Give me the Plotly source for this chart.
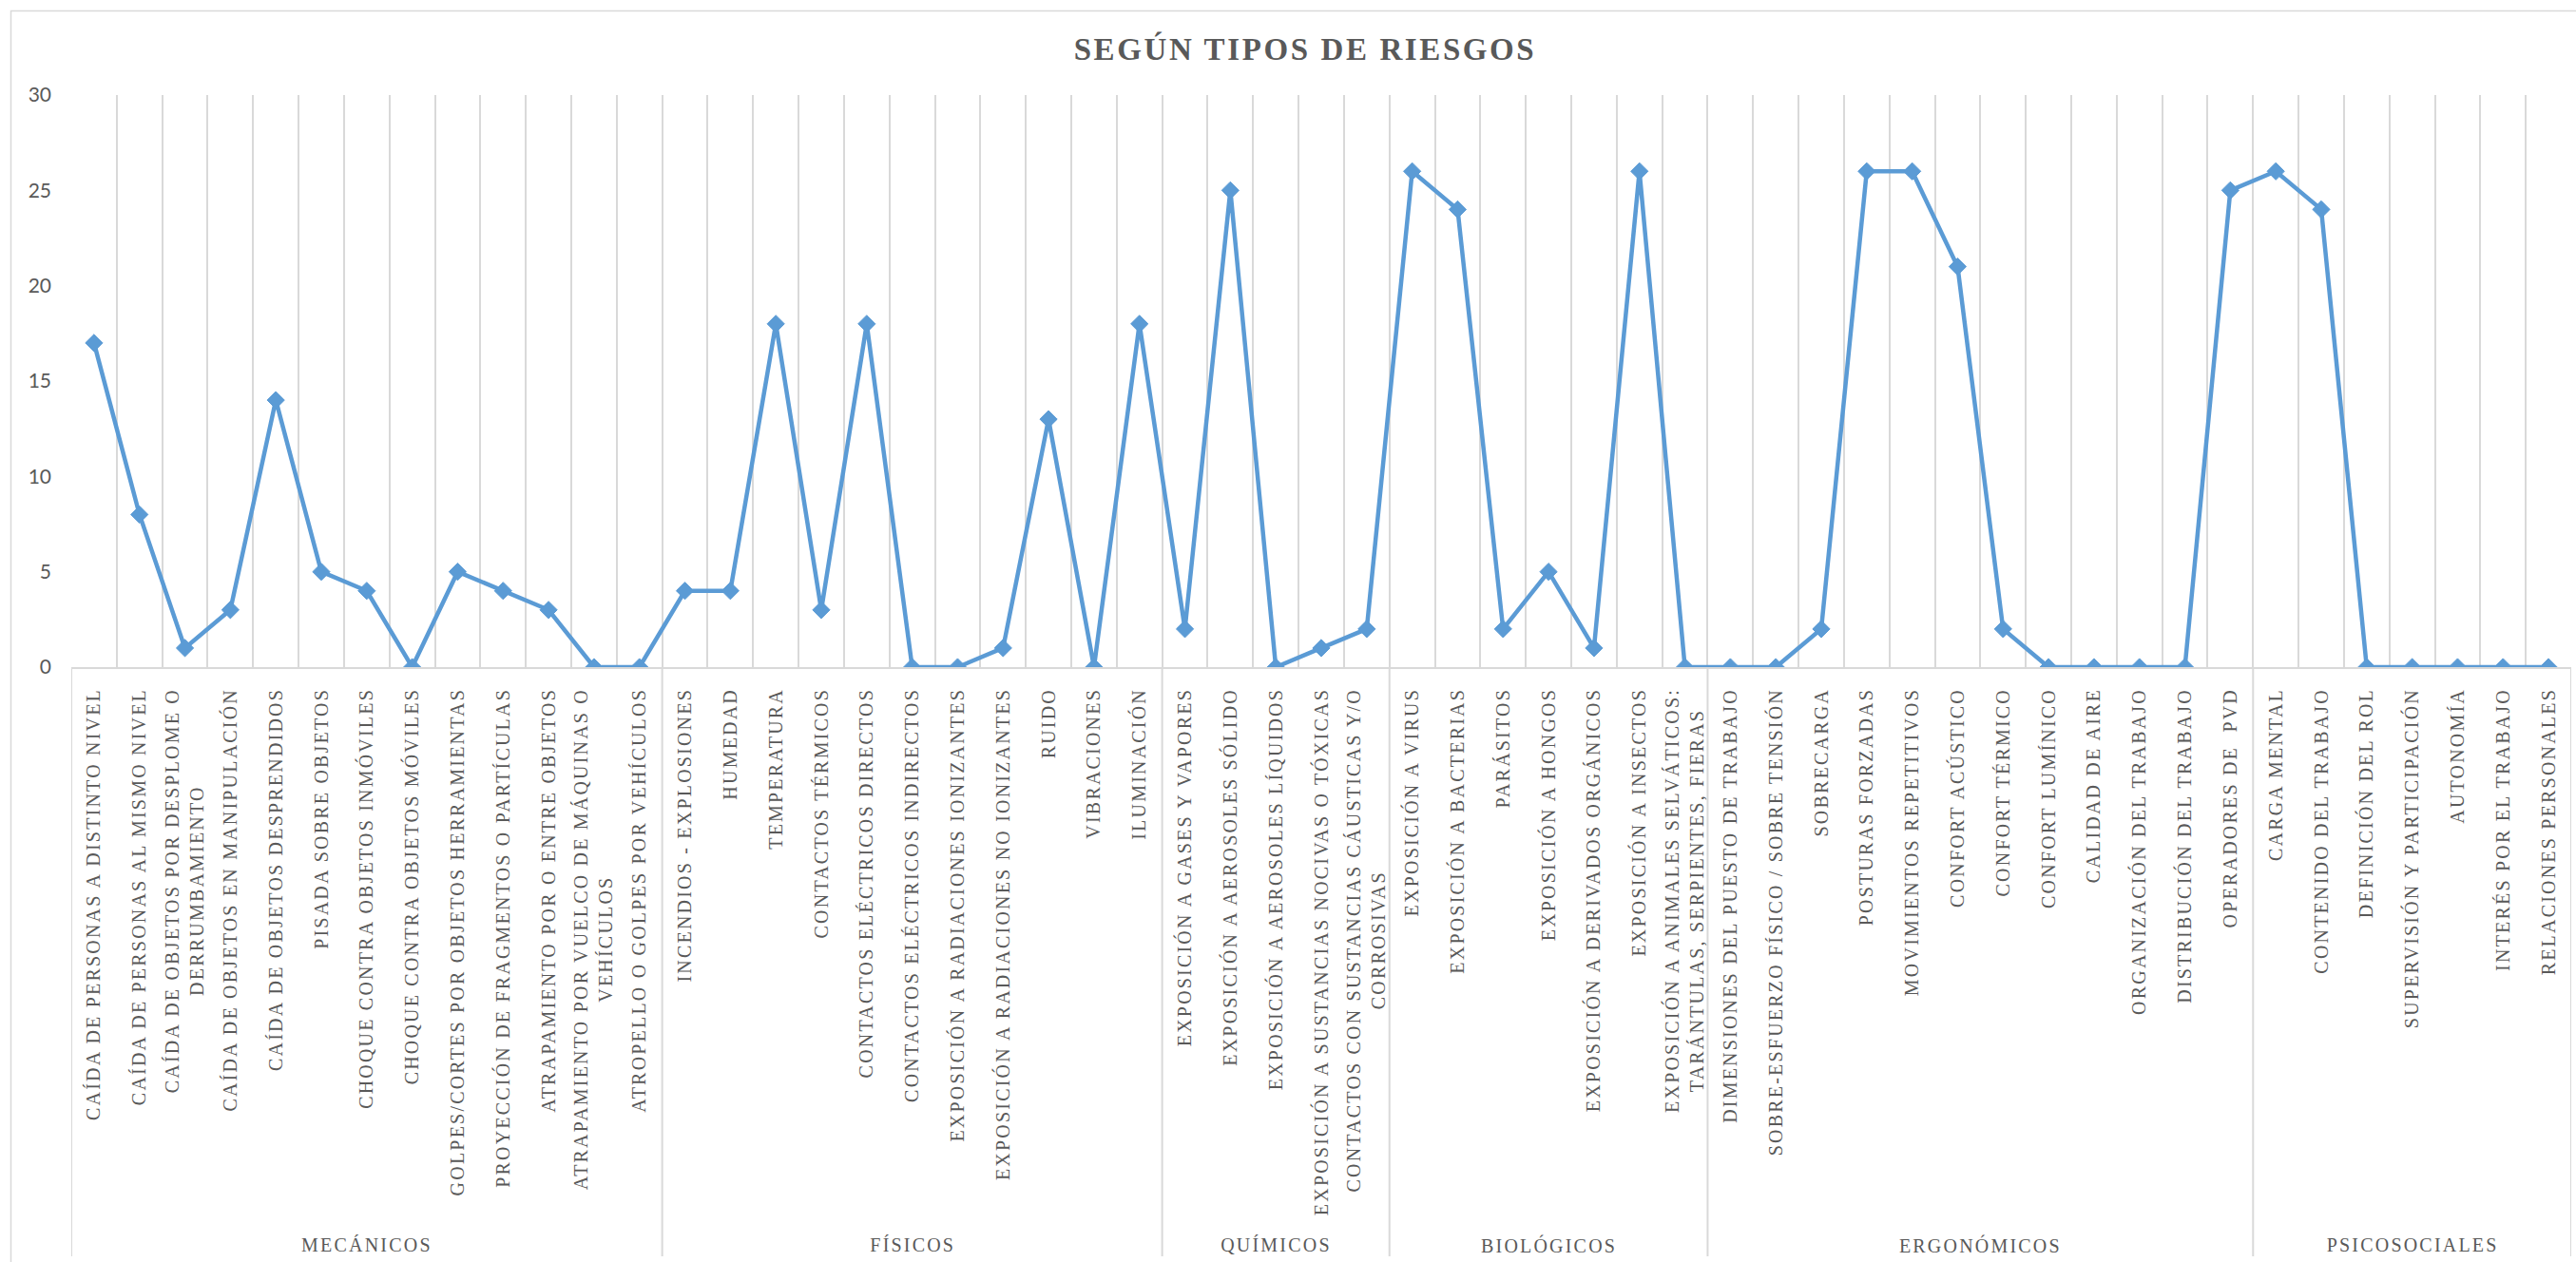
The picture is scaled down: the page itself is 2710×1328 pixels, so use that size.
import plotly.graph_objects as go

# ---------------- data ----------------
groups = ["MECÁNICOS", "FÍSICOS", "QUÍMICOS", "BIOLÓGICOS", "ERGONÓMICOS", "PSICOSOCIALES"]
group_sizes = [13, 11, 5, 7, 12, 7]

labels = [
    # MECÁNICOS
    "CAÍDA DE PERSONAS A DISTINTO NIVEL",
    "CAÍDA DE PERSONAS AL MISMO NIVEL",
    "CAÍDA DE OBJETOS POR DESPLOME O<br>DERRUMBAMIENTO",
    "CAÍDA DE OBJETOS EN MANIPULACIÓN",
    "CAÍDA DE OBJETOS DESPRENDIDOS",
    "PISADA SOBRE OBJETOS",
    "CHOQUE CONTRA OBJETOS INMÓVILES",
    "CHOQUE CONTRA OBJETOS MÓVILES",
    "GOLPES/CORTES POR OBJETOS HERRAMIENTAS",
    "PROYECCIÓN DE FRAGMENTOS O PARTÍCULAS",
    "ATRAPAMIENTO POR O ENTRE OBJETOS",
    "ATRAPAMIENTO POR VUELCO DE MÁQUINAS O<br>VEHÍCULOS",
    "ATROPELLO O GOLPES POR VEHÍCULOS",
    # FÍSICOS
    "INCENDIOS - EXPLOSIONES",
    "HUMEDAD",
    "TEMPERATURA",
    "CONTACTOS TÉRMICOS",
    "CONTACTOS ELÉCTRICOS DIRECTOS",
    "CONTACTOS ELÉCTRICOS INDIRECTOS",
    "EXPOSICIÓN A RADIACIONES IONIZANTES",
    "EXPOSICIÓN A RADIACIONES NO IONIZANTES",
    "RUIDO",
    "VIBRACIONES",
    "ILUMINACIÓN",
    # QUÍMICOS
    "EXPOSICIÓN A GASES Y VAPORES",
    "EXPOSICIÓN A AEROSOLES SÓLIDO",
    "EXPOSICIÓN A AEROSOLES LÍQUIDOS",
    "EXPOSICIÓN A SUSTANCIAS NOCIVAS O TÓXICAS",
    "CONTACTOS CON SUSTANCIAS CÁUSTICAS Y/O<br>CORROSIVAS",
    # BIOLÓGICOS
    "EXPOSICIÓN A VIRUS",
    "EXPOSICIÓN A BACTERIAS",
    "PARÁSITOS",
    "EXPOSICIÓN A HONGOS",
    "EXPOSICIÓN A DERIVADOS ORGÁNICOS",
    "EXPOSICIÓN A INSECTOS",
    "EXPOSICIÓN A ANIMALES SELVÁTICOS:<br>TARÁNTULAS, SERPIENTES, FIERAS",
    # ERGONÓMICOS
    "DIMENSIONES DEL PUESTO DE TRABAJO",
    "SOBRE-ESFUERZO FÍSICO / SOBRE TENSIÓN",
    "SOBRECARGA",
    "POSTURAS FORZADAS",
    "MOVIMIENTOS REPETITIVOS",
    "CONFORT ACÚSTICO",
    "CONFORT TÉRMICO",
    "CONFORT LUMÍNICO",
    "CALIDAD DE AIRE",
    "ORGANIZACIÓN DEL TRABAJO",
    "DISTRIBUCIÓN DEL TRABAJO",
    "OPERADORES DE \u00a0PVD",
    # PSICOSOCIALES
    "CARGA MENTAL",
    "CONTENIDO DEL TRABAJO",
    "DEFINICIÓN DEL ROL",
    "SUPERVISIÓN Y PARTICIPACIÓN",
    "AUTONOMÍA",
    "INTERÉS POR EL TRABAJO",
    "RELACIONES PERSONALES",
]

values = [
    17, 8, 1, 3, 14, 5, 4, 0, 5, 4, 3, 0, 0,
    4, 4, 18, 3, 18, 0, 0, 1, 13, 0, 18,
    2, 25, 0, 1, 2,
    26, 24, 2, 5, 1, 26, 0,
    0, 0, 2, 26, 26, 21, 2, 0, 0, 0, 0, 25,
    26, 24, 0, 0, 0, 0, 0,
]

title_text = "SEGÚN TIPOS DE RIESGOS"
y_ticks = [0, 5, 10, 15, 20, 25, 30]

# ---------------- layout geometry (pixels) ----------------
W, H = 2710, 1328
PL, PR, PT, PB = 75, 2705, 100, 702  # plot area edges


def px_x(p):
    return (p - PL) / (PR - PL)


def px_y(p):
    return (PB - p) / (PB - PT)


TEXT = "#595959"
GRID = "#D9D9D9"
BLUE = "#5B9BD5"
SERIF = "Liberation Serif, Times New Roman, serif"
SANS = "Lato, Carlito, Calibri, sans-serif"

fig = go.Figure()
fig.add_trace(go.Scatter(
    x=labels,
    y=values,
    mode="lines+markers",
    line=dict(color=BLUE, width=4.5),
    marker=dict(symbol="diamond", size=14, color=BLUE, line=dict(color=BLUE, width=1)),
    showlegend=False,
    hoverinfo="x+y",
))

shapes = []
# chart border
shapes.append(dict(type="rect", xref="paper", yref="paper",
                   x0=px_x(11.5), x1=px_x(2725), y0=px_y(1345), y1=px_y(11.5),
                   line=dict(color=GRID, width=1.5), fillcolor="rgba(0,0,0,0)", layer="below"))

# group dividers and labels
annotations = []
start = 0
bounds = [-0.5]
for g, n in zip(groups, group_sizes):
    bounds.append(start + n - 0.5)
    annotations.append(dict(
        x=start + (n - 1) / 2, xref="x",
        y=px_y(1310), yref="paper", yanchor="middle",
        text=g, showarrow=False,
        font=dict(family=SERIF, size=20, color=TEXT),
    ))
    start += n
for b in bounds:
    shapes.append(dict(type="line", xref="x", yref="paper",
                       x0=b, x1=b, y0=0, y1=px_y(1322),
                       line=dict(color=GRID, width=2)))

fig.update_layout(
    width=W, height=H,
    autosize=False,
    margin=dict(l=PL, r=W - PR, t=PT, b=H - PB, pad=0),
    paper_bgcolor="white",
    plot_bgcolor="white",
    title=dict(
        text=title_text,
        x=px_x(1373), xref="paper", xanchor="center",
        y=1 - 51 / H, yref="container", yanchor="middle",
        font=dict(family=SERIF, size=33, color=TEXT, weight=700),
    ),
    xaxis=dict(
        type="category",
        categoryorder="array", categoryarray=labels,
        range=[-0.5, len(labels) - 0.5],
        tickson="boundaries",
        showgrid=True, gridcolor=GRID, gridwidth=2,
        showline=True, linecolor=GRID, linewidth=2,
        ticks="",
        tickangle=-90,
        ticklabelstandoff=12,
        tickfont=dict(family=SERIF, size=20, color=TEXT),
        automargin=False,
        fixedrange=True,
    ),
    yaxis=dict(
        range=[0, 30],
        tickmode="array", tickvals=y_ticks,
        showgrid=False, zeroline=False, showline=False,
        ticks="",
        ticklabelstandoff=20,
        tickfont=dict(family=SANS, size=21, color=TEXT),
        automargin=False,
        fixedrange=True,
    ),
    shapes=shapes,
    annotations=annotations,
)

post = """
var s = document.createElement('style');
s.textContent = '.xtick text{letter-spacing:2.2px} .annotation-text{letter-spacing:2.2px} .gtitle{letter-spacing:2.6px}';
document.head.appendChild(s);
document.body.style.margin = '0';
// centre the lines of wrapped category labels on each other, as Excel does
document.querySelectorAll('.xtick text').forEach(function(t){
  var ls = t.querySelectorAll('tspan.line');
  if (ls.length < 2) return;
  var lens = Array.prototype.map.call(ls, function(l){ return l.getComputedTextLength(); });
  var mx = Math.max.apply(null, lens);
  Array.prototype.forEach.call(ls, function(l, i){
    var x = parseFloat(l.getAttribute('x') || '0');
    l.setAttribute('x', x - (mx - lens[i]) / 2);
  });
});
"""

fig.write_html("out.html", config={"displayModeBar": False}, post_script=post)
